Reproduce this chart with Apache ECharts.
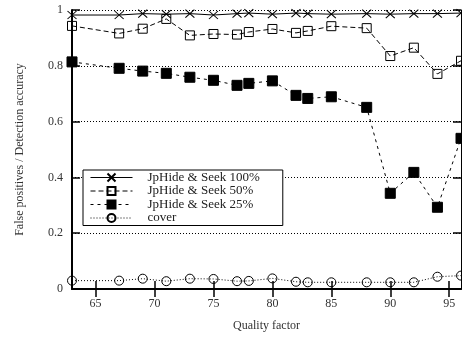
<!DOCTYPE html>
<html>
<head>
<meta charset="utf-8">
<script src="https://cdn.jsdelivr.net/npm/echarts@6/dist/echarts.min.js"></script>
<style>
  html, body { margin: 0; padding: 0; background: #fff; }
  #chart { width: 462px; height: 337px; }
</style>
</head>
<body>
<div id="chart"></div>
<script>
// quality factors (x) and the four measured series
const quality = [63, 67, 69, 71, 73, 75, 77, 78, 80, 82, 83, 85, 88, 90, 92, 94, 96];
const seek100 = [0.982, 0.982, 0.987, 0.985, 0.987, 0.982, 0.987, 0.989, 0.985, 0.989, 0.987, 0.985, 0.987, 0.985, 0.987, 0.987, 0.989];
const seek50 = [0.943, 0.916, 0.933, 0.968, 0.909, 0.914, 0.912, 0.921, 0.932, 0.918, 0.925, 0.942, 0.935, 0.835, 0.865, 0.771, 0.818];
const seek25 = [0.814, 0.791, 0.781, 0.773, 0.759, 0.748, 0.730, 0.737, 0.746, 0.694, 0.683, 0.689, 0.651, 0.343, 0.418, 0.293, 0.540];
const cover = [0.030, 0.030, 0.037, 0.028, 0.037, 0.036, 0.028, 0.029, 0.038, 0.026, 0.024, 0.024, 0.024, 0.024, 0.024, 0.044, 0.048];
const xTicks = [65, 70, 75, 80, 85, 90, 95];
const seriesNames = ['JpHide & Seek 100%', 'JpHide & Seek 50%', 'JpHide & Seek 25%', 'cover'];

const FONT = 'Liberation Serif';
const pairs = vals => quality.map((q, i) => [q, vals[i]]);

const chart = echarts.init(document.getElementById('chart'), null, { renderer: 'canvas' });

function lineSeries(name, vals, symbol, size, fill, dash) {
  return {
    name: name,
    type: 'line',
    data: pairs(vals),
    symbol: symbol,
    symbolSize: size,
    showAllSymbol: true,
    itemStyle: { color: fill, borderColor: '#000', borderWidth: 1 },
    lineStyle: { color: '#000', width: 1, type: dash },
    emphasis: { disabled: true },
    animation: false
  };
}

const xBase = {
  type: 'value', min: 63, max: 96,
  splitLine: { show: false },
  axisTick: { inside: true, length: 8, customValues: xTicks, lineStyle: { color: '#000', width: 1.5 } }
};
const yBase = {
  type: 'value', min: 0, max: 1, interval: 0.2,
  axisTick: { show: true, inside: true, length: 8, lineStyle: { color: '#000', width: 1.5 } }
};

chart.setOption({
  backgroundColor: '#fff',
  textStyle: { fontFamily: FONT },
  grid: { left: 72, right: 1, top: 10, bottom: 48 },
  legend: {
    orient: 'vertical',
    left: 83, top: 170,
    data: seriesNames,
    itemWidth: 42, itemHeight: 10, itemGap: 0.5,
    padding: [1, 23, 1, 7],
    borderColor: '#000', borderWidth: 1,
    backgroundColor: '#fff',
    selectedMode: false,
    lineStyle: { width: 1 },
    textStyle: { fontFamily: FONT, fontSize: 13, color: '#222', lineHeight: 13, padding: [0, 0, 0, 10] }
  },
  xAxis: [
    Object.assign({}, xBase, {
      position: 'bottom',
      name: 'Quality factor', nameLocation: 'middle', nameGap: 31,
      nameTextStyle: { fontFamily: FONT, fontSize: 12, color: '#333' },
      axisLine: { lineStyle: { color: '#000', width: 2 } },
      axisLabel: { customValues: xTicks, margin: 9, fontFamily: FONT, fontSize: 12, color: '#333' }
    }),
    Object.assign({}, xBase, {
      position: 'top',
      axisLine: { lineStyle: { color: '#000', width: 1 } },
      axisLabel: { show: false }
    })
  ],
  yAxis: [
    Object.assign({}, yBase, {
      position: 'left',
      name: 'False positives / Detection accuracy', nameLocation: 'middle', nameGap: 46,
      nameTextStyle: { fontFamily: FONT, fontSize: 12, color: '#333' },
      axisLine: { show: true, lineStyle: { color: '#000', width: 2 } },
      axisLabel: { margin: 9, fontFamily: FONT, fontSize: 12, color: '#333' },
      splitLine: { show: true, lineStyle: { color: '#000', width: 1, type: [1, 2] } }
    }),
    Object.assign({}, yBase, {
      position: 'right',
      axisLine: { show: true, lineStyle: { color: '#000', width: 1 } },
      axisLabel: { show: false },
      splitLine: { show: false }
    })
  ],
  series: [
    lineSeries(seriesNames[0], seek100, 'path://M0,0L10,10M10,0L0,10', [9, 8], 'transparent', 'solid'),
    lineSeries(seriesNames[1], seek50, 'rect', 9, 'transparent', [5, 3]),
    lineSeries(seriesNames[2], seek25, 'rect', 10, '#000', [3, 4]),
    lineSeries(seriesNames[3], cover, 'circle', 9, 'transparent', [1, 2])
  ]
});
</script>
</body>
</html>
